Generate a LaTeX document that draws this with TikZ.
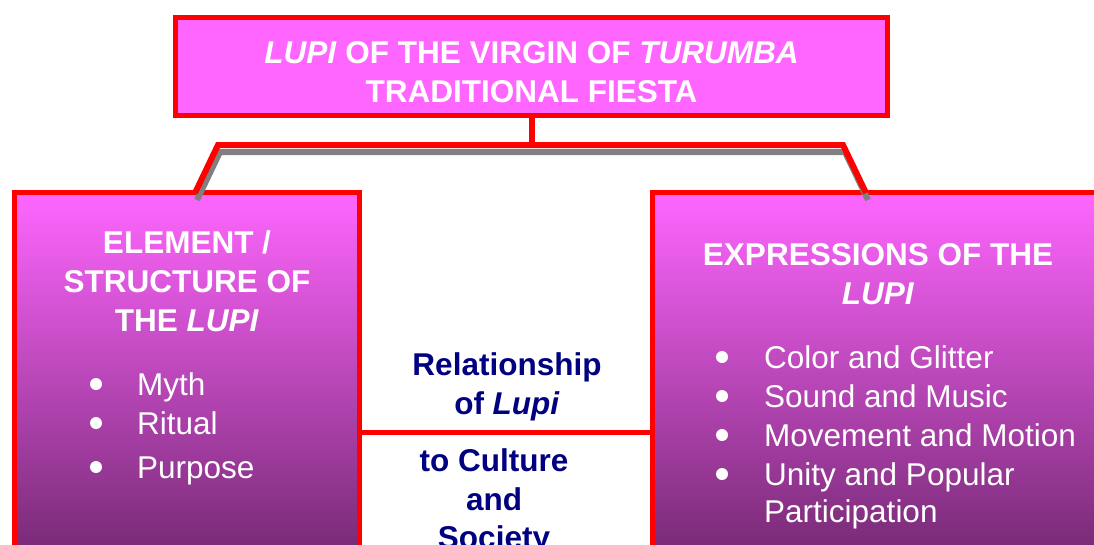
\documentclass[tikz,border=0pt]{standalone}
\usepackage{fontspec}
\setmainfont{Liberation Sans}
\usetikzlibrary{positioning,calc}
\definecolor{fiestapink}{HTML}{FF66FF}
\definecolor{fiestaplum}{HTML}{782A76}
\definecolor{fiestanavy}{HTML}{000080}
\tikzstyle{titlebox} = [draw=red,line width=5pt,fill=fiestapink,rectangle,inner sep=0,minimum width=712pt,minimum height=98pt,text=white,font=\bfseries\fontsize{31.5}{39}\selectfont,align=center,text height=71.6pt]
\tikzstyle{branch} = [draw=red,line width=5pt,rectangle,inner sep=0,top color=fiestapink,bottom color=fiestaplum,anchor=north west]
\tikzstyle{heading} = [text=white,font=\bfseries\fontsize{31.5}{39}\selectfont,anchor=base,inner sep=0]
\tikzstyle{entry} = [text=white,font=\fontsize{31.5}{39}\selectfont,anchor=base west,inner sep=0]
\tikzstyle{dot} = [circle,fill=white,inner sep=0,minimum size=12pt]
\tikzstyle{relation} = [text=fiestanavy,font=\bfseries\fontsize{31.5}{39}\selectfont,anchor=base,inner sep=0]
\tikzstyle{link} = [draw=red,line width=6pt]
\tikzstyle{linkshadow} = [draw=gray,line width=6pt,transform canvas={xshift=2pt,yshift=-7pt}]

\begin{document}
\begin{tikzpicture}[x=1pt,y=-1pt]
  \useasboundingbox (0,0) rectangle (1094,544);
  % boxes
  \node[titlebox] (title) at (531.5,66.5) {\textit{LUPI} OF THE VIRGIN OF \textit{TURUMBA}\\TRADITIONAL FIESTA};
  \node[branch,minimum width=345pt,minimum height=360pt] (elem) at (12,190) {};
  \node[branch,minimum width=451pt,minimum height=360pt] (expr) at (650,190) {};
  % bracket
  \coordinate (barL) at (218,145);
  \coordinate (barR) at (843,145);
  \coordinate (elemtop) at ($(elem.north west)+(183,3)$);
  \coordinate (exprtop) at ($(expr.north west)+(216,3)$);
  \draw[linkshadow] (elemtop) -- (barL) -- (barR) -- (exprtop);
  \draw[link] (elemtop) -- (barL) -- (barR) -- (exprtop);
  \draw[link] (title.south) -- (title.south |- barL);
  \draw[link,line width=5pt] (elem.east |- 0,432) -- (expr.west |- 0,432);
  % headings
  \node[heading] (eh1) at (187,253) {ELEMENT /};
  \node[heading] (eh2) at (187,292) {STRUCTURE OF};
  \node[heading] (eh3) at (187,331) {THE \textit{LUPI}};
  \node[heading] (xh1) at (878,265) {EXPRESSIONS OF THE};
  \node[heading] (xh2) at (878,304) {\textit{LUPI}};
  % lists
  \foreach \y/\txt [count=\i] in {395/Myth, 434/Ritual, 478/Purpose}{
    \node[dot] (eb-\i) at (96,\y-11) {};
    \node[entry] (ei-\i) at (137,\y) {\txt};
  }
  \foreach \y/\txt [count=\i] in {368/Color and Glitter, 407/Sound and Music, 446/Movement and Motion, 485/Unity and Popular}{
    \node[dot] (xb-\i) at (722,\y-11) {};
    \node[entry] (xi-\i) at (764,\y) {\txt};
  }
  \node[entry] (xi-5) at (764,522) {Participation};
  % middle text
  \foreach \x/\y/\txt [count=\i] in {507/375/Relationship, 507/414/of \textit{Lupi}, 494/471/to Culture, 494/510/and, 494/548/Society}{
    \node[relation] (rel-\i) at (\x,\y) {\txt};
  }
\end{tikzpicture}
\end{document}
